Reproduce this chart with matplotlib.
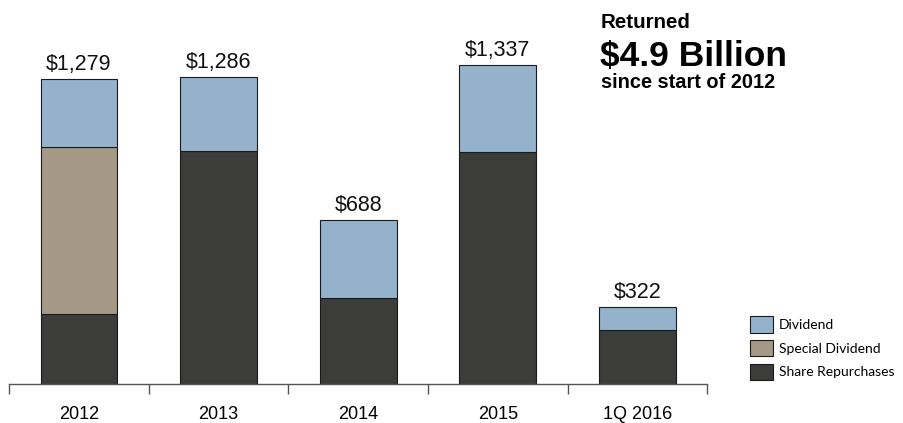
import matplotlib
matplotlib.use("Agg")
import matplotlib.pyplot as plt
import numpy as np

categories = ["2012", "2013", "2014", "2015", "1Q 2016"]
totals = [1279, 1286, 688, 1337, 322]
repurchases = [294, 977, 360, 973, 227]
special_dividend = [699, 0, 0, 0, 0]
dividend = [t - r - s for t, r, s in zip(totals, repurchases, special_dividend)]
total_labels = ["$1,279", "$1,286", "$688", "$1,337", "$322"]

c_div = "#95B2CC"
c_spec = "#A69886"
c_rep = "#3C3C3B"
edge = "#1a1a1a"

plt.rcParams['font.family'] = ['Liberation Sans', 'DejaVu Sans']

fig = plt.figure(figsize=(9.04, 4.23), dpi=100)
ax = fig.add_axes([9.2 / 904, 39 / 423, 698 / 904, 357.6 / 423])

x = np.arange(len(categories))
w = 0.55
b1 = ax.bar(x, repurchases, w, color=c_rep, edgecolor=edge, linewidth=0.8, label="Share Repurchases")
b2 = ax.bar(x, special_dividend, w, bottom=repurchases, color=c_spec, edgecolor=edge, linewidth=0.8,
            label="Special Dividend")
bot2 = [r + s for r, s in zip(repurchases, special_dividend)]
b3 = ax.bar(x, dividend, w, bottom=bot2, color=c_div, edgecolor=edge, linewidth=0.8, label="Dividend")
for i, v in enumerate(special_dividend):
    if v == 0:
        b2[i].set_visible(False)

for xi, t, lab in zip(x, totals, total_labels):
    ax.text(xi, t + 18, lab, ha="center", va="bottom", fontsize=15.5, color="#111111")

ax.set_xlim(-0.5, len(categories) - 0.5)
ax.set_ylim(0, 1500)
for s in ["top", "right", "left"]:
    ax.spines[s].set_visible(False)
ax.spines["bottom"].set_color("#555555")
ax.spines["bottom"].set_linewidth(1.0)
ax.set_yticks([])
ax.set_xticks(x)
ax.set_xticklabels(categories, fontsize=13)
ax.tick_params(axis="x", which="major", length=0, pad=16)
ax.set_xticks(np.arange(-0.5, len(categories)), minor=True)
ax.tick_params(axis="x", which="minor", length=7, width=1.0, color="#555555", direction="out")

fig.text(600.7 / 904, 1 - 28.3 / 423, "Returned", fontsize=14.8, fontweight="bold", ha="left", va="baseline")
fig.text(600 / 904, 1 - 66 / 423, "$4.9 Billion", fontsize=25.5, fontweight="bold", ha="left", va="baseline")
fig.text(600.7 / 904, 1 - 88 / 423, "since start of 2012", fontsize=14.4, fontweight="bold", ha="left",
         va="baseline")

leg = ax.legend(handles=[b3, b2, b1], loc="upper left", bbox_to_anchor=(739 / 904, 1 - 305 / 423),
                bbox_transform=fig.transFigure, frameon=False,
                prop={"family": ["Lato", "DejaVu Sans"], "size": 10},
                handlelength=1.65, handleheight=1.45, handletextpad=0.4, labelspacing=0.52, borderpad=0.3)

fig.savefig("out.png", dpi=100)
